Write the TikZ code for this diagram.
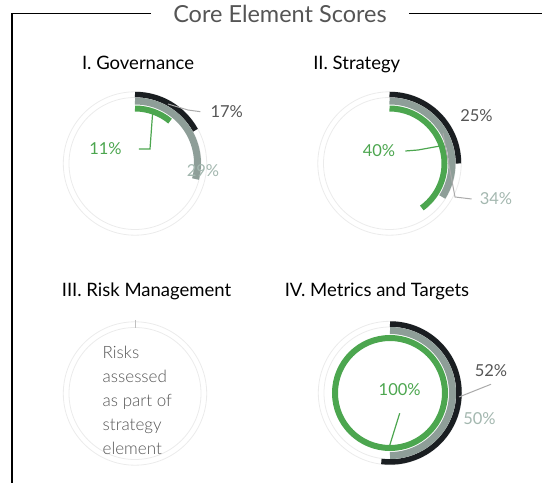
\documentclass[tikz,border=0pt]{standalone}
\usepackage{fontspec}
\setmainfont{Lato}
\newfontfamily\lightfont{Lato Light}
\definecolor{arcgreen}{HTML}{4CA64F}
\definecolor{arcblack}{HTML}{1A1E21}
\definecolor{arcgray}{HTML}{8E9E98}
\definecolor{lbldark}{HTML}{555555}
\definecolor{lbllight}{HTML}{A3B7AF}
\definecolor{leadgray}{HTML}{AAAAAA}
\definecolor{faint}{HTML}{EBEBEB}
\tikzset{
  faintring/.style={draw=faint, line width=0.8pt},
  blackband/.style={draw=arcblack, line width=5.5pt},
  grayband/.style={draw=arcgray, line width=7pt},
  greenband/.style={draw=arcgreen, line width=6pt},
  heading/.style={font=\fontsize{18.5}{22}\selectfont, text=black, inner sep=0pt, anchor=base},
  pct/.style={font=\fontsize{16.5}{20}\selectfont, inner sep=0pt},
  leader/.style={draw=leadgray, line width=1pt},
  greenleader/.style={draw=arcgreen, line width=1.2pt},
  frame/.style={draw=black, line width=1.2pt},
  titlebox/.style={font=\fontsize{23.5}{28}\selectfont, text=lbldark, inner xsep=22pt, inner ysep=0pt},
  risktext/.style={font=\lightfont\fontsize{17}{24}\selectfont, text=lbldark, align=left, inner sep=0pt, anchor=north west}
}
\begin{document}
\begin{tikzpicture}[x=1pt,y=1pt]
\useasboundingbox (0,0) rectangle (542,483);
% frame and title
\node[titlebox] (title) at (280,469.4) {Core Element Scores};
\coordinate (tl) at (12,469.4);
\coordinate (bl) at (12,0);
\coordinate (tr) at (542,469.4);
\draw[frame] (title.west) -- (tl) -- (bl);
\draw[frame] (title.east) -- (tr);
% headings
\node[heading] (h1) at (138,413) {I. Governance};
\node[heading] (h2) at (356.7,413) {II. Strategy};
\node[heading] (h3) at (146.5,186) {III. Risk Management};
\node[heading] (h4) at (377,186) {IV. Metrics and Targets};
% centres
\coordinate (c1) at (135,319.5);
\coordinate (c2) at (389.5,319.5);
\coordinate (c3) at (135,89.5);
\coordinate (c4) at (390,90);
% faint rings
\foreach \c in {c1,c2,c3,c4}{
  \draw[faintring] (\c) circle[radius=71.7pt];
  \draw[faintring] (\c) circle[radius=66pt];
}
% chart 1
\draw[blackband] (c1) ++(90:69pt) arc[start angle=90, end angle=28.8, radius=69pt];
\draw[grayband] (c1) ++(90:62.5pt) arc[start angle=90, end angle=-14.4, radius=62.5pt];
\draw[greenband] (c1) ++(90:55pt) arc[start angle=90, end angle=50.4, radius=55pt];
\node[pct, text=lbldark] (p1a) at (226.7,371.3) {17\%};
\node[pct, text=lbllight] (p1b) at (203,312) {29\%};
\node[pct, text=arcgreen] (p1c) at (105.5,334) {11\%};
\coordinate (l1a) at (168,379);
\draw[leader] (l1a) -- (188,373) -- ([xshift=-10pt]p1a.west);
\coordinate (g1) at (152.7,371);
\draw[greenleader] (g1) -- (150,334) -- ([xshift=17pt]p1c.east);
% chart 2
\draw[blackband] (c2) ++(90:69pt) arc[start angle=90, end angle=0, radius=69pt];
\draw[grayband] (c2) ++(90:62.5pt) arc[start angle=90, end angle=-32.4, radius=62.5pt];
\draw[greenband] (c2) ++(90:55pt) arc[start angle=90, end angle=-54, radius=55pt];
\node[pct, text=lbldark] (p2a) at (476.5,367) {25\%};
\node[pct, text=lbllight] (p2b) at (496,284) {34\%};
\node[pct, text=arcgreen] (p2c) at (379,332) {40\%};
\coordinate (g2) at (440,337);
\draw[greenleader] ([xshift=10pt]p2c.east) -- (418,333) -- (g2);
\coordinate (l2b) at (443,350);
\draw[leader] (l2b) -- (455,286) -- ([xshift=-8pt]p2b.west);
% chart 3
\coordinate (t3a) at (135,163);
\coordinate (t3b) at (135,155);
\draw[draw=lightgray, line width=0.6pt] (t3a) -- (t3b);
\node[risktext] (risk) at (102.5,137) {Risks\\assessed\\as part of\\strategy\\element};
% chart 4
\draw[blackband] (c4) ++(90:69pt) arc[start angle=90, end angle=-97.2, radius=69pt];
\draw[grayband] (c4) ++(90:62.5pt) arc[start angle=90, end angle=-90, radius=62.5pt];
\draw[greenband] (c4) circle[radius=55pt];
\node[pct, text=lbldark] (p4a) at (491,112) {52\%};
\node[pct, text=lbllight] (p4b) at (479.5,64.5) {50\%};
\node[pct, text=arcgreen] (p4c) at (399.7,93) {100\%};
\coordinate (l4a) at (459,86);
\draw[leader] (l4a) -- ([yshift=-7pt]p4a.south);
\coordinate (g4) at (389.3,36.3);
\draw[greenleader] ([yshift=-17pt]p4c.south) -- (g4);
\end{tikzpicture}
\end{document}
